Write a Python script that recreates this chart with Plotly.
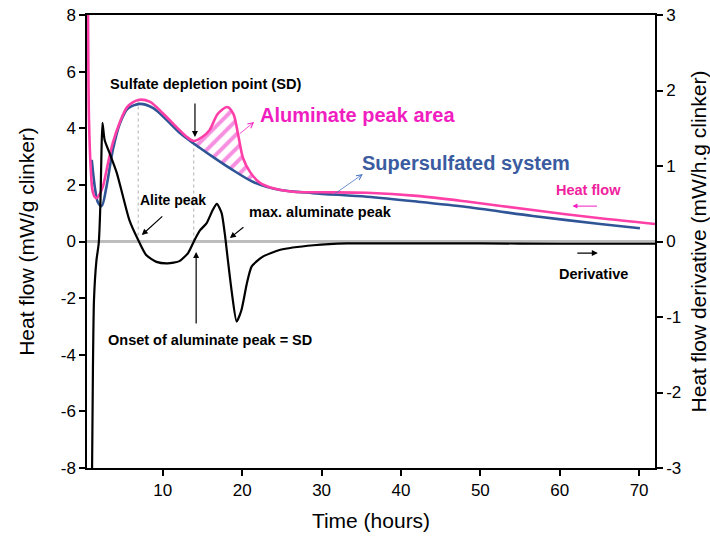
import plotly.graph_objects as go

# Heat flow of the reference cement (mW/g clinker)
ref_hours = [0.55, 0.7, 0.93, 1.13, 1.43, 1.65, 1.9, 2.44, 3.1, 3.7, 4.6, 5.5, 6.9, 8.4, 10.0, 11.7,
             13.0, 13.9, 15.0, 15.9, 16.9, 18.1, 18.9, 19.5, 20.1, 21.0, 22.2, 23.9, 26.4, 30.0,
             35.7, 42.0, 48.3, 56.6, 65.1, 72.0]
ref_heat = [9.5, 4.3, 2.53, 1.82, 1.57, 1.53, 1.6, 1.93, 2.77, 3.48, 4.22, 4.75, 5.0, 4.93, 4.53, 4.05,
            3.7, 3.55, 3.7, 3.94, 4.5, 4.75, 4.5, 3.75, 2.95, 2.45, 2.08, 1.88, 1.76, 1.74,
            1.72, 1.61, 1.41, 1.11, 0.82, 0.62]

# Heat flow of the supersulfated system (mW/g clinker)
ss_hours = [1.05, 1.43, 1.8, 2.3, 2.9, 3.7, 4.6, 5.6, 7.1, 8.8, 10.5, 12.2, 13.8, 16.3, 18.5, 21.4,
            24.8, 28.9, 35.7, 42.0, 48.3, 56.6, 65.1, 70.1]
ss_heat = [2.88, 1.93, 1.4, 1.25, 1.93, 3.23, 4.18, 4.7, 4.86, 4.71, 4.29, 3.82, 3.48, 2.99, 2.58, 2.1,
           1.82, 1.71, 1.58, 1.41, 1.22, 0.9, 0.62, 0.47]

# Heat flow derivative (mW/h.g clinker)
der_hours = [1.05, 1.2, 1.33, 1.64, 1.93, 2.14, 2.27, 2.4, 2.68, 3.3, 4.2, 5.0, 5.8, 6.9, 7.9, 9.2,
             10.6, 12.1, 13.2, 14.0, 14.7, 15.5, 16.3, 16.8, 17.4, 17.8, 18.2, 18.7, 19.3, 19.9,
             20.6, 21.2, 22.6, 24.8, 29.0, 33.2, 40.0, 50.0, 60.0, 72.0]
der_vals = [-3.5, -1.66, -0.77, -0.25, -0.02, 0.51, 1.17, 1.57, 1.34, 1.17, 0.91, 0.59, 0.28, 0.02,
            -0.18, -0.27, -0.29, -0.26, -0.15, 0.02, 0.15, 0.24, 0.42, 0.5, 0.38, 0.11, -0.25, -0.68,
            -1.06, -0.91, -0.55, -0.33, -0.2, -0.11, -0.05, -0.025, -0.025, -0.025, -0.03, -0.03]

# Characteristic times (hours)
alite_peak_h = 6.9
sd_h = 13.9
area_end_h = 22.4

x_ticks = [10, 20, 30, 40, 50, 60, 70]
y_ticks = [-8, -6, -4, -2, 0, 2, 4, 6, 8]
y2_ticks = [-3, -2, -1, 0, 1, 2, 3]

PINK = "#FF3FA8"
MAGENTA = "#F01EC0"
BLUE = "#2F5597"
FONT = "Liberation Sans, Arial, sans-serif"

fig = go.Figure()

# hatched aluminate peak area between the two heat-flow curves
lower = [(h, v) for h, v in zip(ss_hours, ss_heat) if sd_h <= h <= area_end_h]
upper = [(h, v) for h, v in zip(ref_hours, ref_heat) if sd_h <= h <= area_end_h]
area_x = [sd_h] + [h for h, _ in lower] + [area_end_h] + [h for h, _ in reversed(upper)]
area_y = [ref_heat[ref_hours.index(sd_h)]] + [v for _, v in lower] + [2.02] + \
         [v for _, v in reversed(upper)]
fig.add_trace(go.Scatter(
    x=area_x, y=area_y, mode="lines", fill="toself",
    line=dict(width=0, color="rgba(0,0,0,0)", shape="spline", smoothing=0.6),
    fillcolor="rgba(0,0,0,0)",
    fillpattern=dict(shape="/", fgcolor=MAGENTA, bgcolor="rgba(0,0,0,0)", size=10, solidity=0.4),
    hoverinfo="skip", showlegend=False))

# dashed guides from the heat-flow curve down to the zero line
for h in (alite_peak_h, sd_h):
    peak = ref_heat[ref_hours.index(h)]
    fig.add_trace(go.Scatter(x=[h, h], y=[0, peak], mode="lines",
                             line=dict(color="#B0B0B0", width=1, dash="3px,3px"),
                             hoverinfo="skip", showlegend=False))

fig.add_trace(go.Scatter(x=der_hours, y=der_vals, yaxis="y2", mode="lines", name="Derivative",
                         line=dict(color="black", width=2.2, shape="spline", smoothing=0.6),
                         showlegend=False))
fig.add_trace(go.Scatter(x=ss_hours, y=ss_heat, mode="lines", name="Supersulfated system",
                         line=dict(color=BLUE, width=2.6, shape="spline", smoothing=0.8),
                         showlegend=False))
fig.add_trace(go.Scatter(x=ref_hours, y=ref_heat, mode="lines", name="Heat flow",
                         line=dict(color=PINK, width=2.6, shape="spline", smoothing=0.8),
                         showlegend=False))


def label(text, x, y, size, color="black", xanchor="left"):
    fig.add_annotation(x=x, y=y, text=f"<b>{text}</b>", showarrow=False, xref="x", yref="y",
                       xanchor=xanchor, yanchor="middle",
                       font=dict(family=FONT, size=size, color=color))


def arrow(x, y, ax, ay, color, head, width=1.2, size=1.0):
    fig.add_annotation(x=x, y=y, ax=ax, ay=ay, text="", showarrow=True, xref="x", yref="y",
                       arrowhead=head, arrowcolor=color, arrowwidth=width, arrowsize=size)


label("Sulfate depletion point (SD)", 15.4, 5.56, 14.6, xanchor="center")
label("Aluminate peak area", 22.0, 4.47, 20, MAGENTA)
label("Supersulfated system", 34.8, 2.77, 20, "#3A5BA0")
label("Heat flow", 59.3, 1.82, 14.5, "#F0229E")
label("Derivative", 59.6, -1.15, 14.5)
label("Alite peak", 6.9, 1.47, 14)
label("max. aluminate peak", 20.6, 1.04, 14.5)
label("Onset of aluminate peak = SD", 2.9, -3.48, 14.5)

arrow(14.05, 3.69, 0, -35, "black", 2)
arrow(7.35, 0.23, 22, -20, "black", 2)
arrow(18.45, 0.12, 15, -12, "black", 2)
arrow(14.2, -0.37, 0, 73, "black", 2)
arrow(64.8, -0.41, -22, 0, "black", 2)
arrow(61.6, 1.25, 26, 0, MAGENTA, 2, 1.0)
arrow(21.5, 4.22, -16, 13, MAGENTA, 5, 0.8, 1.3)
arrow(35.2, 2.38, -30, 21, "#4A74C0", 5, 0.8, 1.3)

axis_common = dict(showline=True, linecolor="black", linewidth=1.5, ticks="outside",
                   ticklen=6, tickcolor="black", tickwidth=1.5, showgrid=False,
                   automargin=False,
                   tickfont=dict(family=FONT, size=17, color="black"))

fig.update_layout(
    width=710, height=537,
    margin=dict(l=87, r=55, t=15, b=69),
    paper_bgcolor="white", plot_bgcolor="white",
    font=dict(family=FONT, color="black"),
    xaxis=dict(range=[0.45, 72], tickvals=x_ticks, ticktext=[str(v) for v in x_ticks],
               mirror=True, zeroline=False,
               title=dict(text="Time (hours)", font=dict(family=FONT, size=21), standoff=14),
               **axis_common),
    yaxis=dict(range=[-8, 8], tickvals=y_ticks, ticktext=[str(v) for v in y_ticks],
               zeroline=True, zerolinecolor="#BDBDBD", zerolinewidth=3,
               title=dict(text="Heat flow (mW/g clinker)", font=dict(family=FONT, size=21),
                          standoff=20),
               **axis_common),
    yaxis2=dict(range=[-3, 3], tickvals=y2_ticks, ticktext=[str(v) for v in y2_ticks],
                overlaying="y", side="right", zeroline=False,
                title=dict(text="Heat flow derivative (mW/h.g clinker)",
                           font=dict(family=FONT, size=21), standoff=18),
                **axis_common),
)

fig.write_html("out.html")
